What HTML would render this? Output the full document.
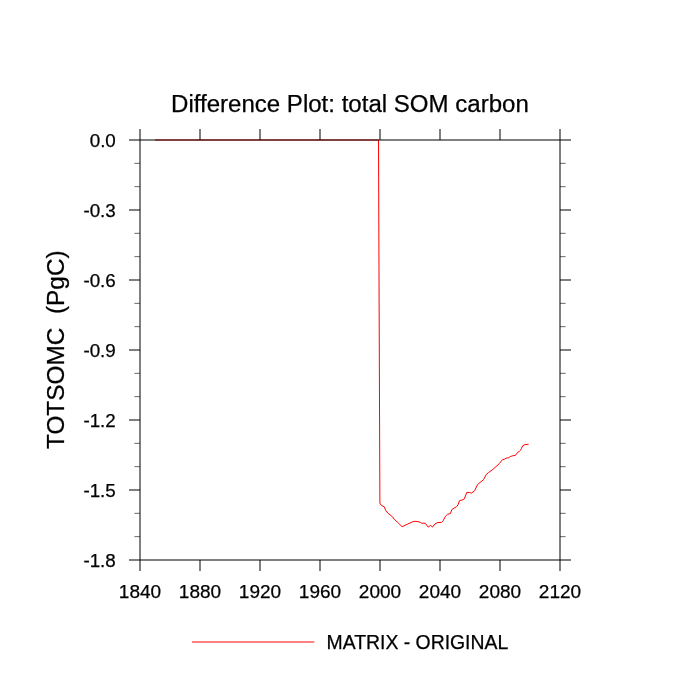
<!DOCTYPE html>
<html><head><meta charset="utf-8"><title>Difference Plot: total SOM carbon</title>
<style>
html,body{margin:0;padding:0;background:#fff;}
body{width:700px;height:700px;overflow:hidden;}
svg{display:block;}
text{white-space:pre;}
</style></head>
<body>
<svg width="700" height="700" viewBox="0 0 700 700">
<rect width="700" height="700" fill="#fff"/>
<polyline points="155,140 378.5,140 379.9,503.2 381.4,505.4 384.3,506.8 385.7,510.4 387.9,513.2 392.5,516.8 394.3,519.3 398.6,523.2 402.1,526.8 407.1,524.3 413.9,521.3 417.9,521.6 420.7,522.5 422.1,523.4 423.9,523.0 425.7,523.7 428.2,527.1 430.7,525.4 432.5,527.1 435,523.9 437.9,522.5 441.4,522.5 443.2,520.7 445.4,516.4 447.5,514.3 450.4,513.6 451.8,509.6 453.9,508.2 456.4,506.8 457.9,505 459.5,500.7 462.1,500 464.3,498.9 466.8,492.5 469.3,492.4 471.4,493.2 474.6,490.7 477.5,484.6 480,482.5 483.6,479.6 486.4,474.3 488.6,472.5 492.1,470 495,467.5 499.3,463.6 502.5,459.6 504.3,459.3 506.1,458.1 508.2,457.9 510.7,456.4 513.2,455.7 515.4,455.4 517.5,452.5 519.2,451.6 520.2,450.6 521.4,448.6 522.7,445.7 525,444.6 528.6,444.3" fill="none" stroke="#f00" stroke-width="1" stroke-linejoin="round"/>
<g stroke="#000" stroke-width="1" fill="none" stroke-linecap="butt">
<path d="M140 140H560V560H140Z"/>
<path d="M140 140v-11M140 560v11"/>
<path d="M200 140v-11M200 560v11"/>
<path d="M260 140v-11M260 560v11"/>
<path d="M320 140v-11M320 560v11"/>
<path d="M380 140v-11M380 560v11"/>
<path d="M440 140v-11M440 560v11"/>
<path d="M500 140v-11M500 560v11"/>
<path d="M560 140v-11M560 560v11"/>
<path d="M140 140h-11M560 140h11"/>
<path d="M140 210h-11M560 210h11"/>
<path d="M140 280h-11M560 280h11"/>
<path d="M140 350h-11M560 350h11"/>
<path d="M140 420h-11M560 420h11"/>
<path d="M140 490h-11M560 490h11"/>
<path d="M140 560h-11M560 560h11"/>
</g>
<g stroke="#000" stroke-width="0.6" fill="none">
<path d="M140 163.33h-5.6M560 163.33h5.6"/>
<path d="M140 186.67h-5.6M560 186.67h5.6"/>
<path d="M140 233.33h-5.6M560 233.33h5.6"/>
<path d="M140 256.67h-5.6M560 256.67h5.6"/>
<path d="M140 303.33h-5.6M560 303.33h5.6"/>
<path d="M140 326.67h-5.6M560 326.67h5.6"/>
<path d="M140 373.33h-5.6M560 373.33h5.6"/>
<path d="M140 396.67h-5.6M560 396.67h5.6"/>
<path d="M140 443.33h-5.6M560 443.33h5.6"/>
<path d="M140 466.67h-5.6M560 466.67h5.6"/>
<path d="M140 513.33h-5.6M560 513.33h5.6"/>
<path d="M140 536.67h-5.6M560 536.67h5.6"/>
</g>
<path d="M192 642H314.3" stroke="#f00" stroke-width="1" fill="none"/>
<g font-family="Liberation Sans, Arial, Helvetica, sans-serif" fill="#000" stroke="#000" stroke-width="0.25" stroke-linejoin="round">
<text x="349.9" y="112" font-size="24.05" text-anchor="middle">Difference Plot: total SOM carbon</text>
<text x="115.8" y="146.5" font-size="18.8" text-anchor="end">0.0</text>
<text x="115.8" y="216.5" font-size="18.8" text-anchor="end">-0.3</text>
<text x="115.8" y="286.5" font-size="18.8" text-anchor="end">-0.6</text>
<text x="115.8" y="356.5" font-size="18.8" text-anchor="end">-0.9</text>
<text x="115.8" y="426.5" font-size="18.8" text-anchor="end">-1.2</text>
<text x="115.8" y="496.5" font-size="18.8" text-anchor="end">-1.5</text>
<text x="115.8" y="566.5" font-size="18.8" text-anchor="end">-1.8</text>
<text x="140" y="597.7" font-size="19" text-anchor="middle">1840</text>
<text x="200" y="597.7" font-size="19" text-anchor="middle">1880</text>
<text x="260" y="597.7" font-size="19" text-anchor="middle">1920</text>
<text x="320" y="597.7" font-size="19" text-anchor="middle">1960</text>
<text x="380" y="597.7" font-size="19" text-anchor="middle">2000</text>
<text x="440" y="597.7" font-size="19" text-anchor="middle">2040</text>
<text x="500" y="597.7" font-size="19" text-anchor="middle">2080</text>
<text x="560" y="597.7" font-size="19" text-anchor="middle">2120</text>
<text transform="translate(64.2,349.7) rotate(-90)" font-size="24.4" text-anchor="middle">TOTSOMC  (PgC)</text>
<text x="326.5" y="648.6" font-size="19.4">MATRIX - ORIGINAL</text>
</g>
</svg>
</body></html>
